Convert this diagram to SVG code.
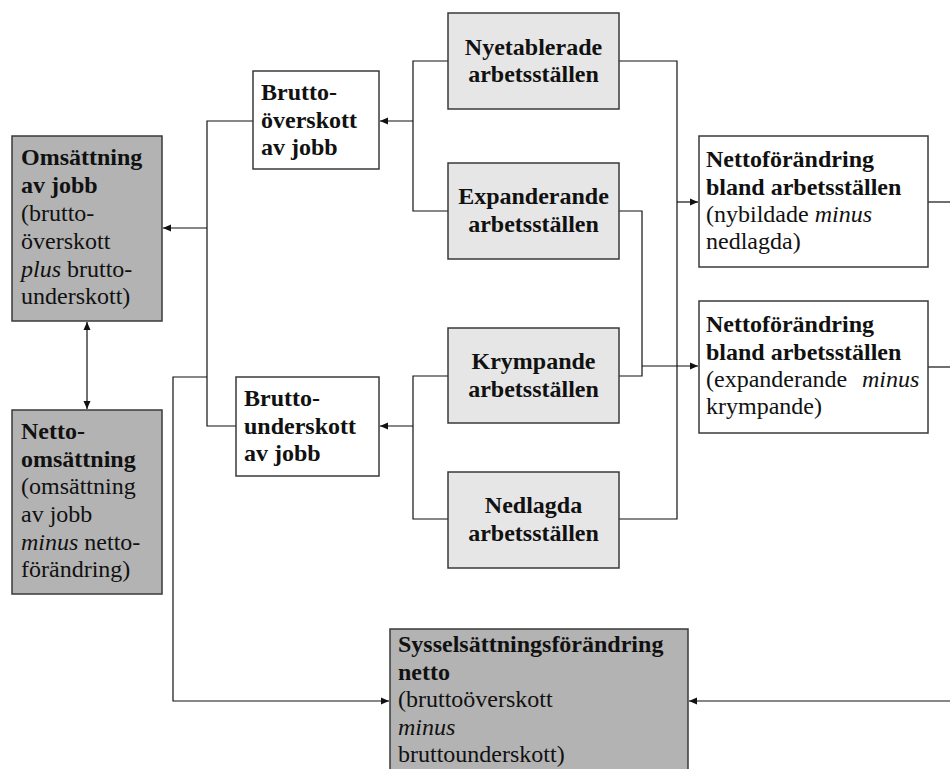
<svg xmlns="http://www.w3.org/2000/svg" width="950" height="769" viewBox="0 0 950 769">
<style>
  text { font-family: "Liberation Serif", "Times New Roman", serif; font-size: 24px; fill: #111; }
  .b { font-weight: bold; }
  .i { font-style: italic; }
  .c { text-anchor: middle; }
  .box { stroke: #3a3a3a; stroke-width: 1.5; }
  .dark { fill: #b3b3b3; }
  .light { fill: #e6e6e6; }
  .white { fill: #ffffff; }
  .ln { fill: none; stroke: #111; stroke-width: 1.2; }
</style>
<defs>
  <marker id="ah" markerUnits="userSpaceOnUse" markerWidth="9" markerHeight="8" refX="8" refY="4" orient="auto">
    <path d="M0,0.5 L8,4 L0,7.5 z" fill="#111"/>
  </marker>
  <marker id="ahs" markerUnits="userSpaceOnUse" markerWidth="9" markerHeight="8" refX="0" refY="4" orient="auto">
    <path d="M8,0.5 L0,4 L8,7.5 z" fill="#111"/>
  </marker>
</defs>
<rect width="950" height="769" fill="#ffffff"/>

<g id="connectors">
  <polyline class="ln" points="448,61 413,61 413,211 448,211"/>
  <line class="ln" x1="413" y1="121" x2="380" y2="121" marker-end="url(#ah)"/>
  <polyline class="ln" points="448,376 413,376 413,519 448,519"/>
  <line class="ln" x1="413" y1="426" x2="380" y2="426" marker-end="url(#ah)"/>
  <polyline class="ln" points="253,121 207,121 207,426 236,426"/>
  <line class="ln" x1="207" y1="228" x2="163" y2="228" marker-end="url(#ah)"/>
  <polyline class="ln" points="207,377 173,377 173,701 389,701" marker-end="url(#ah)"/>
  <line class="ln" x1="87" y1="322" x2="87" y2="409" marker-start="url(#ahs)" marker-end="url(#ah)"/>
  <polyline class="ln" points="619,61 677,61 677,519 619,519"/>
  <line class="ln" x1="677" y1="202" x2="698" y2="202" marker-end="url(#ah)"/>
  <polyline class="ln" points="619,211 642,211 642,376 619,376"/>
  <line class="ln" x1="642" y1="366" x2="698" y2="366" marker-end="url(#ah)"/>
  <line class="ln" x1="928" y1="202" x2="950" y2="202"/>
  <line class="ln" x1="928" y1="367" x2="950" y2="367"/>
  <line class="ln" x1="950" y1="701" x2="689" y2="701" marker-end="url(#ah)"/>
</g>

<g id="omsattning">
  <rect class="box dark" x="12" y="136" width="150" height="185"/>
  <text x="21" y="165" class="b">Omsättning</text>
  <text x="21" y="193" class="b">av jobb</text>
  <text x="21" y="221">(brutto-</text>
  <text x="21" y="249">överskott</text>
  <text x="21" y="277"><tspan class="i">plus</tspan> brutto-</text>
  <text x="21" y="304">underskott)</text>
</g>

<g id="nettoomsattning">
  <rect class="box dark" x="12" y="410" width="150" height="184"/>
  <text x="21" y="439" class="b">Netto-</text>
  <text x="21" y="467" class="b">omsättning</text>
  <text x="21" y="494">(omsättning</text>
  <text x="21" y="522">av jobb</text>
  <text x="21" y="550"><tspan class="i">minus</tspan> netto-</text>
  <text x="21" y="577">förändring)</text>
</g>

<g id="bruttooverskott">
  <rect class="box white" x="253" y="71" width="126" height="98"/>
  <text x="261" y="100" class="b">Brutto-</text>
  <text x="261" y="128" class="b">överskott</text>
  <text x="261" y="155" class="b">av jobb</text>
</g>

<g id="bruttounderskott">
  <rect class="box white" x="236" y="377" width="143" height="99"/>
  <text x="244" y="406" class="b">Brutto-</text>
  <text x="244" y="434" class="b">underskott</text>
  <text x="244" y="461" class="b">av jobb</text>
</g>

<g id="nyetablerade">
  <rect class="box light" x="448" y="13" width="171" height="96"/>
  <text x="533.5" y="55" class="b c">Nyetablerade</text>
  <text x="533.5" y="82" class="b c">arbetsställen</text>
</g>

<g id="expanderande">
  <rect class="box light" x="448" y="163" width="171" height="96"/>
  <text x="533.5" y="204" class="b c">Expanderande</text>
  <text x="533.5" y="232" class="b c">arbetsställen</text>
</g>

<g id="krympande">
  <rect class="box light" x="448" y="328" width="171" height="95"/>
  <text x="533.5" y="369" class="b c">Krympande</text>
  <text x="533.5" y="397" class="b c">arbetsställen</text>
</g>

<g id="nedlagda">
  <rect class="box light" x="448" y="472" width="171" height="96"/>
  <text x="533.5" y="513" class="b c">Nedlagda</text>
  <text x="533.5" y="541" class="b c">arbetsställen</text>
</g>

<g id="netto1">
  <rect class="box white" x="699" y="136" width="229" height="131"/>
  <text x="706" y="167" class="b">Nettoförändring</text>
  <text x="706" y="195" class="b">bland arbetsställen</text>
  <text x="706" y="222">(nybildade <tspan class="i">minus</tspan></text>
  <text x="706" y="249">nedlagda)</text>
</g>

<g id="netto2">
  <rect class="box white" x="699" y="301" width="229" height="132"/>
  <text x="706" y="332" class="b">Nettoförändring</text>
  <text x="706" y="360" class="b">bland arbetsställen</text>
  <text x="706" y="387">(expanderande <tspan class="i" x="862">minus</tspan></text>
  <text x="706" y="414">krympande)</text>
</g>

<g id="sysselsattning">
  <rect class="box dark" x="390" y="629" width="298" height="150"/>
  <text x="398" y="652" class="b">Sysselsättningsförändring</text>
  <text x="398" y="680" class="b">netto</text>
  <text x="398" y="707">(bruttoöverskott</text>
  <text x="398" y="735" class="i">minus</text>
  <text x="398" y="762">bruttounderskott)</text>
</g>
</svg>
